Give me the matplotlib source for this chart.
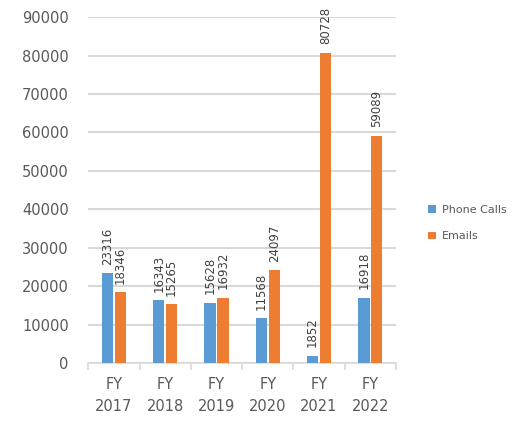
import matplotlib.pyplot as plt
import numpy as np

# данные
years = ["FY\n2017", "FY\n2018", "FY\n2019", "FY\n2020", "FY\n2021", "FY\n2022"]
phone_calls = [23316, 16343, 15628, 11568, 1852, 16918]
emails = [18346, 15265, 16932, 24097, 80728, 59089]

blue = "#5b9bd5"
orange = "#ed7d31"
grey = "#595959"

fig = plt.figure(figsize=(5.19, 4.29), dpi=100)
ax = fig.add_axes([0.170, 0.154, 0.593, 0.806])

x = np.arange(len(years))
w = 0.22
b1 = ax.bar(x - 0.125, phone_calls, w, color=blue, label="Phone Calls", zorder=3)
b2 = ax.bar(x + 0.125, emails, w, color=orange, label="Emails", zorder=3)

for bars in (b1, b2):
    for r in bars:
        ax.text(r.get_x() + r.get_width() / 2, r.get_height() + 2200,
                str(int(r.get_height())), rotation=90, ha="center", va="bottom",
                fontsize=8.5, color="#404040")

ax.set_ylim(0, 90000)
ax.set_xlim(-0.5, len(years) - 0.5)
ax.set_yticks(range(0, 90001, 10000))
ax.yaxis.grid(True, color="#d9d9d9", linewidth=1.5, zorder=0)
ax.tick_params(axis="y", length=0, labelsize=10.5, labelcolor=grey, pad=14)

ax.set_xticks(x)
ax.set_xticklabels(years, fontsize=10.5, color=grey, linespacing=1.6)
ax.set_xticks(np.arange(-0.5, len(years)), minor=True)
ax.tick_params(axis="x", which="major", length=0, pad=10)
ax.tick_params(axis="x", which="minor", length=5, color="#d9d9d9", width=1.2)

for s in ["top", "right", "left"]:
    ax.spines[s].set_visible(False)
ax.spines["bottom"].set_color("#d9d9d9")
ax.spines["bottom"].set_linewidth(1.2)

fig.legend(handles=[b1, b2], loc="center left", bbox_to_anchor=(0.805, 0.48),
           frameon=False, fontsize=8, handlelength=0.7, handleheight=0.7,
           labelspacing=1.5, handletextpad=0.6, labelcolor=grey)

plt.savefig("out.png", dpi=100)
